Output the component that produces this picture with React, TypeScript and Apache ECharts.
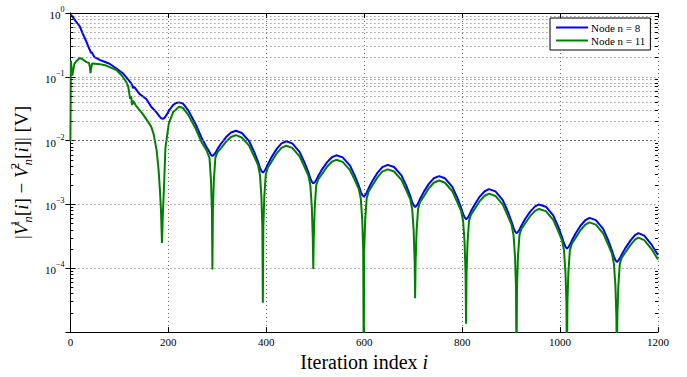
import React, { useEffect, useRef } from "react";
import * as echarts from "echarts";

// |V1[i]-V2[i]| for node n = 8 (blue), [iteration, value]
const node8Data: [number, number][] = [
  [0, 0.93], [2, 0.92], [5, 0.86], [10, 0.76], [19, 0.62], [26, 0.46], [33, 0.35], [38, 0.28], [41, 0.25], [42, 0.235], [43, 0.245],
  [49, 0.204], [63, 0.18], [80, 0.16], [94, 0.135], [107, 0.114], [121, 0.085], [126, 0.075], [128, 0.066], [130, 0.07], [141, 0.054],
  [155, 0.045], [165, 0.0339], [175, 0.0282], [182, 0.024], [185, 0.0226], [188, 0.022], [192, 0.0226], [196, 0.0251], [202, 0.0302],
  [210, 0.0363], [216, 0.0389], [222, 0.0398], [230, 0.038], [241, 0.0295], [255, 0.0186], [268, 0.011], [278, 0.00794], [284, 0.00661],
  [287, 0.00603], [290, 0.00575], [293, 0.00597], [296, 0.00641], [300, 0.00729], [308, 0.00908], [318, 0.01138], [328, 0.0134],
  [338, 0.0143], [350, 0.0132], [365, 0.00979], [375, 0.00673], [383, 0.00468], [387, 0.00379], [390, 0.00336], [393, 0.00316],
  [396, 3.31e-3], [399, 3.62e-3], [403, 4.24e-3], [411, 5.56e-3], [421, 7.36e-3], [431, 9.04e-3], [441, 9.77e-3], [453, 9.06e-3],
  [468, 6.68e-3], [478, 4.57e-3], [486, 3.18e-3], [490, 2.56e-3], [493, 2.27e-3], [496, 2.14e-3],
  [499, 2.23e-3], [502, 2.42e-3], [506, 2.78e-3], [514, 3.55e-3], [524, 4.57e-3], [534, 5.5e-3], [543, 5.89e-3], [556, 5.47e-3],
  [571, 4.06e-3], [581, 2.8e-3], [589, 1.96e-3], [593, 1.59e-3], [596, 1.41e-3], [599, 1.33e-3],
  [602, 1.39e-3], [605, 1.53e-3], [609, 1.79e-3], [617, 2.36e-3], [627, 3.13e-3], [637, 3.84e-3], [648, 4.17e-3], [661, 3.86e-3],
  [676, 2.85e-3], [686, 1.95e-3], [694, 1.36e-3], [698, 1.09e-3], [701, 9.68e-4], [704, 9.12e-4],
  [707, 9.53e-4], [710, 1.04e-3], [714, 1.22e-3], [722, 1.59e-3], [732, 2.1e-3], [742, 2.57e-3], [753, 2.78e-3], [765, 2.57e-3],
  [780, 1.89e-3], [790, 1.28e-3], [798, 8.81e-4], [802, 7.1e-4], [805, 6.27e-4], [808, 5.89e-4],
  [811, 6.15e-4], [814, 6.7e-4], [818, 7.8e-4], [826, 1.01e-3], [836, 1.33e-3], [846, 1.61e-3], [855, 1.74e-3], [868, 1.6e-3],
  [883, 1.17e-3], [893, 7.85e-4], [901, 5.36e-4], [905, 4.3e-4], [908, 3.78e-4], [911, 3.55e-4],
  [914, 3.7e-4], [917, 4.02e-4], [921, 4.65e-4], [929, 5.96e-4], [939, 7.73e-4], [949, 9.33e-4], [957, 1.0e-3], [971, 9.23e-4],
  [986, 6.73e-4], [996, 4.52e-4], [1004, 3.08e-4], [1008, 2.47e-4], [1011, 2.18e-4], [1014, 2.04e-4],
  [1017, 2.13e-4], [1020, 2.33e-4], [1024, 2.72e-4], [1032, 3.55e-4], [1042, 4.68e-4], [1052, 5.7e-4], [1060, 6.17e-4], [1073, 5.69e-4],
  [1088, 4.15e-4], [1098, 2.79e-4], [1106, 1.9e-4], [1110, 1.52e-4], [1113, 1.34e-4], [1116, 1.26e-4],
  [1119, 1.31e-4], [1122, 1.43e-4], [1126, 1.65e-4], [1134, 2.11e-4], [1144, 2.74e-4], [1153, 3.31e-4], [1160, 3.55e-4],
  [1172, 3.24e-4], [1186, 2.4e-4], [1200, 1.62e-4],
];

// |V1[i]-V2[i]| for node n = 11 (green), [iteration, value]
const node11Data: [number, number][] = [
  [0, 0.0098], [1, 0.18], [3, 0.11], [4, 0.105], [8, 0.16], [12, 0.175], [19, 0.197], [24, 0.19], [33, 0.17], [38, 0.165], [40, 0.14],
  [41, 0.114], [42, 0.13], [44, 0.16], [46, 0.162], [60, 0.158], [73, 0.15], [94, 0.128], [105, 0.105], [114, 0.083], [118, 0.07],
  [122, 0.045], [124, 0.05], [126, 0.036], [128, 0.042], [130, 0.04], [133, 0.036], [140, 0.031], [148, 0.026], [160, 0.019],
  [165, 0.0166], [170, 0.0126], [176, 0.0071], [180, 0.00355], [183, 0.00158], [185, 7.9e-4], [187, 2.5e-4], [189, 7.9e-4],
  [191, 1.78e-3], [194, 7.6e-3], [201, 0.0186], [210, 0.0282], [222, 0.0339], [230, 0.0324], [241, 0.0251], [255, 0.0158],
  [268, 9.36e-3], [278, 7.07e-3], [284, 5.37e-3], [287, 2.45e-3], [289, 8.13e-4], [290, 9.55e-5], [291, 8.13e-4], [293, 2.45e-3],
  [296, 5.37e-3], [300, 6.49e-3], [308, 7.73e-3], [318, 9.68e-3], [328, 1.14e-2], [338, 1.22e-2], [350, 1.12e-2], [365, 8.33e-3],
  [375, 5.73e-3], [383, 4.17e-3], [387, 2.95e-3], [390, 1.35e-3], [392, 4.47e-4], [393, 2.88e-5], [394, 4.47e-4], [396, 1.35e-3],
  [399, 2.95e-3], [403, 3.77e-3], [411, 4.73e-3], [421, 6.26e-3], [431, 7.69e-3], [441, 8.31e-3], [453, 7.71e-3], [468, 5.68e-3],
  [478, 3.89e-3], [486, 2.83e-3], [490, 2.0e-3], [493, 9.12e-4], [495, 3.02e-4], [496, 9.77e-5], [497, 3.02e-4], [499, 9.12e-4],
  [502, 2.0e-3], [506, 2.47e-3], [514, 3.02e-3], [524, 3.89e-3], [534, 4.68e-3], [543, 5.01e-3], [556, 4.65e-3], [571, 3.46e-3],
  [581, 2.38e-3], [589, 1.74e-3], [593, 1.24e-3], [596, 5.68e-4], [598, 1.88e-4], [599, 2.5e-6], [600, 1.88e-4], [602, 5.68e-4],
  [605, 1.24e-3], [609, 1.59e-3], [617, 2.01e-3], [627, 2.66e-3], [637, 3.27e-3], [648, 3.55e-3], [661, 3.28e-3], [676, 2.43e-3],
  [686, 1.66e-3], [694, 1.21e-3], [698, 8.51e-4], [701, 3.89e-4], [703, 1.29e-4], [704, 3.39e-5], [705, 1.29e-4], [707, 3.89e-4],
  [710, 8.51e-4], [714, 1.09e-3], [722, 1.35e-3], [732, 1.79e-3], [742, 2.19e-3], [753, 2.37e-3], [765, 2.19e-3], [780, 1.61e-3],
  [790, 1.09e-3], [798, 7.84e-4], [802, 5.5e-4], [805, 2.51e-4], [807, 8.32e-5], [808, 1.35e-5], [809, 8.32e-5], [811, 2.51e-4],
  [814, 5.5e-4], [818, 6.94e-4], [826, 8.6e-4], [836, 1.13e-3], [846, 1.37e-3], [855, 1.48e-3], [868, 1.36e-3], [883, 9.96e-4],
  [893, 6.68e-4], [901, 4.77e-4], [905, 3.31e-4], [908, 1.51e-4], [910, 5.01e-5], [911, 2.5e-6], [912, 5.01e-5], [914, 1.51e-4],
  [917, 3.31e-4], [921, 4.14e-4], [929, 5.07e-4], [939, 6.58e-4], [949, 7.94e-4], [957, 8.51e-4], [971, 7.85e-4], [986, 5.73e-4],
  [996, 3.85e-4], [1004, 2.74e-4], [1008, 1.91e-4], [1011, 8.71e-5], [1013, 2.88e-5], [1014, 2.5e-6], [1015, 2.88e-5], [1017, 8.71e-5],
  [1020, 1.91e-4], [1024, 2.42e-4], [1032, 3.02e-4], [1042, 3.98e-4], [1052, 4.85e-4], [1060, 5.25e-4], [1073, 4.84e-4],
  [1088, 3.53e-4], [1098, 2.37e-4], [1106, 1.69e-4], [1110, 1.17e-4], [1113, 5.37e-5], [1115, 1.78e-5], [1116, 2.5e-6],
  [1117, 1.78e-5], [1119, 5.37e-5], [1122, 1.17e-4], [1126, 1.47e-4], [1134, 1.8e-4], [1144, 2.33e-4], [1153, 2.82e-4],
  [1160, 3.02e-4], [1172, 2.76e-4], [1186, 2.04e-4], [1200, 1.38e-4],
];

const seriesNames = ["Node n = 8", "Node n = 11"];
const seriesColors = ["#0000ff", "#008000"];
const yMinorDecades = [-5, -4, -3, -2, -1];
const yMinorMultipliers = [2, 3, 4, 5, 6, 7, 8, 9];

const FONT = "'Liberation Serif', 'Times New Roman', 'DejaVu Serif', serif";

export default function App() {
  const ref = useRef<HTMLDivElement>(null);
  useEffect(() => {
    if (!ref.current) return;
    const chart = echarts.init(ref.current, null, { renderer: "svg" });

    const minorLines: any[] = [];
    const minorTicks: any[] = [];
    for (const d of yMinorDecades) {
      for (const k of yMinorMultipliers) {
        const v = k * Math.pow(10, d);
        minorLines.push({ yAxis: v });
        minorTicks.push([{ coord: [0, v] }, { coord: [6, v] }]);
        minorTicks.push([{ coord: [1194, v] }, { coord: [1200, v] }]);
      }
    }
    const gridDot = { color: "#6a6a6a", width: 1, type: [1, 3] as any };

    const yLabelFormatter = (v: number) => {
      const e = Math.round(Math.log10(v));
      if (e === -5) return "";
      return `{b|10}{e|${e < 0 ? "\u2212" + -e : e}}`;
    };

    const option: any = {
      animation: false,
      backgroundColor: "#ffffff",
      textStyle: { fontFamily: FONT },
      grid: { left: 68, right: 29, top: 13, bottom: 36 },
      legend: {
        orient: "vertical",
        left: 550,
        top: 18,
        z: 20,
        data: seriesNames,
        icon: "rect",
        backgroundColor: "#ffffff",
        borderColor: "#000000",
        borderWidth: 1,
        borderRadius: 0,
        padding: [4, 5, 4, 6],
        itemGap: 2,
        itemWidth: 32,
        itemHeight: 2,
        textStyle: { fontFamily: FONT, fontSize: 11, color: "#000", padding: [0, 0, 0, -2] },
      },
      xAxis: [
        {
          type: "value",
          min: 0,
          max: 1200,
          interval: 200,
          position: "bottom",
          name: "{a|Iteration index }{i|i}",
          nameLocation: "middle",
          nameGap: 18,
          nameTextStyle: {
            fontFamily: FONT,
            rich: {
              a: { fontFamily: FONT, fontSize: 20, color: "#000" },
              i: { fontFamily: FONT, fontSize: 20, fontStyle: "italic", color: "#000" },
            },
          },
          axisLine: { show: true, lineStyle: { color: "#000", width: 1 } },
          axisTick: { show: true, inside: true, length: 5, lineStyle: { color: "#000" } },
          axisLabel: {
            margin: 4,
            fontFamily: FONT,
            fontSize: 11,
            color: "#000",
            formatter: (v: number) => String(v),
          },
          splitLine: { show: true, lineStyle: gridDot },
        },
        {
          type: "value",
          min: 0,
          max: 1200,
          interval: 200,
          position: "top",
          axisLine: { show: true, lineStyle: { color: "#000", width: 1 } },
          axisTick: { show: true, inside: true, length: 5, lineStyle: { color: "#000" } },
          axisLabel: { show: false },
          splitLine: { show: false },
        },
      ],
      yAxis: [
        {
          type: "log",
          logBase: 10,
          min: 1e-5,
          max: 1,
          position: "left",
          name: "{t||}{v|V}{p|1}{s|n}{t|[}{v|i}{t|] \u2212 }{v|V}{p|2}{s|n}{t|[}{v|i}{t|]| [V]}",
          nameLocation: "middle",
          nameGap: 30,
          nameRotate: 90,
          nameTextStyle: {
            fontFamily: FONT,
            rich: {
              t: { fontFamily: FONT, fontSize: 19, color: "#000", lineHeight: 26, verticalAlign: "middle" },
              v: { fontFamily: FONT, fontSize: 19, fontStyle: "italic", color: "#000", lineHeight: 26, verticalAlign: "middle" },
              p: { fontFamily: FONT, fontSize: 13, color: "#000", lineHeight: 26, verticalAlign: "top", width: 1 },
              s: { fontFamily: FONT, fontSize: 13, fontStyle: "italic", color: "#000", lineHeight: 26, verticalAlign: "bottom" },
            },
          },
          axisLine: { show: true, lineStyle: { color: "#000", width: 1 } },
          axisTick: { show: true, inside: true, length: 5, lineStyle: { color: "#000" } },
          axisLabel: {
            margin: 6,
            fontFamily: FONT,
            formatter: yLabelFormatter,
            rich: {
              b: { fontFamily: FONT, fontSize: 11, color: "#000", lineHeight: 15, verticalAlign: "bottom" },
              e: { fontFamily: FONT, fontSize: 8, color: "#000", lineHeight: 15, verticalAlign: "top" },
            },
          },
          splitLine: { show: true, lineStyle: gridDot },
        },
        {
          type: "log",
          logBase: 10,
          min: 1e-5,
          max: 1,
          position: "right",
          axisLine: { show: true, lineStyle: { color: "#000", width: 1 } },
          axisTick: { show: true, inside: true, length: 5, lineStyle: { color: "#000" } },
          axisLabel: { show: false },
          splitLine: { show: false },
        },
      ],
      series: [
        {
          type: "line",
          name: "__grid",
          data: [],
          xAxisIndex: 0,
          yAxisIndex: 0,
          z: 1,
          silent: true,
          markLine: {
            silent: true,
            symbol: ["none", "none"],
            label: { show: false },
            lineStyle: gridDot,
            emphasis: { disabled: true },
            data: minorLines,
          },
        },
        {
          type: "line",
          name: "__ticks",
          data: [],
          xAxisIndex: 0,
          yAxisIndex: 0,
          z: 5,
          silent: true,
          markLine: {
            silent: true,
            symbol: ["none", "none"],
            label: { show: false },
            lineStyle: { color: "#000", width: 1, type: "solid" },
            emphasis: { disabled: true },
            data: minorTicks,
          },
        },
        {
          type: "line",
          name: seriesNames[0],
          data: node8Data,
          xAxisIndex: 0,
          yAxisIndex: 0,
          symbol: "none",
          showSymbol: false,
          clip: true,
          z: 3,
          color: seriesColors[0],
          lineStyle: { color: seriesColors[0], width: 2 },
        },
        {
          type: "line",
          name: seriesNames[1],
          data: node11Data,
          xAxisIndex: 0,
          yAxisIndex: 0,
          symbol: "none",
          showSymbol: false,
          clip: true,
          z: 4,
          color: seriesColors[1],
          lineStyle: { color: seriesColors[1], width: 2 },
        },
      ],
    };
    chart.setOption(option);
    return () => chart.dispose();
  }, []);
  return <div ref={ref} style={{ position: "fixed", left: 0, top: 0, width: 687, height: 377 }} />;
}
